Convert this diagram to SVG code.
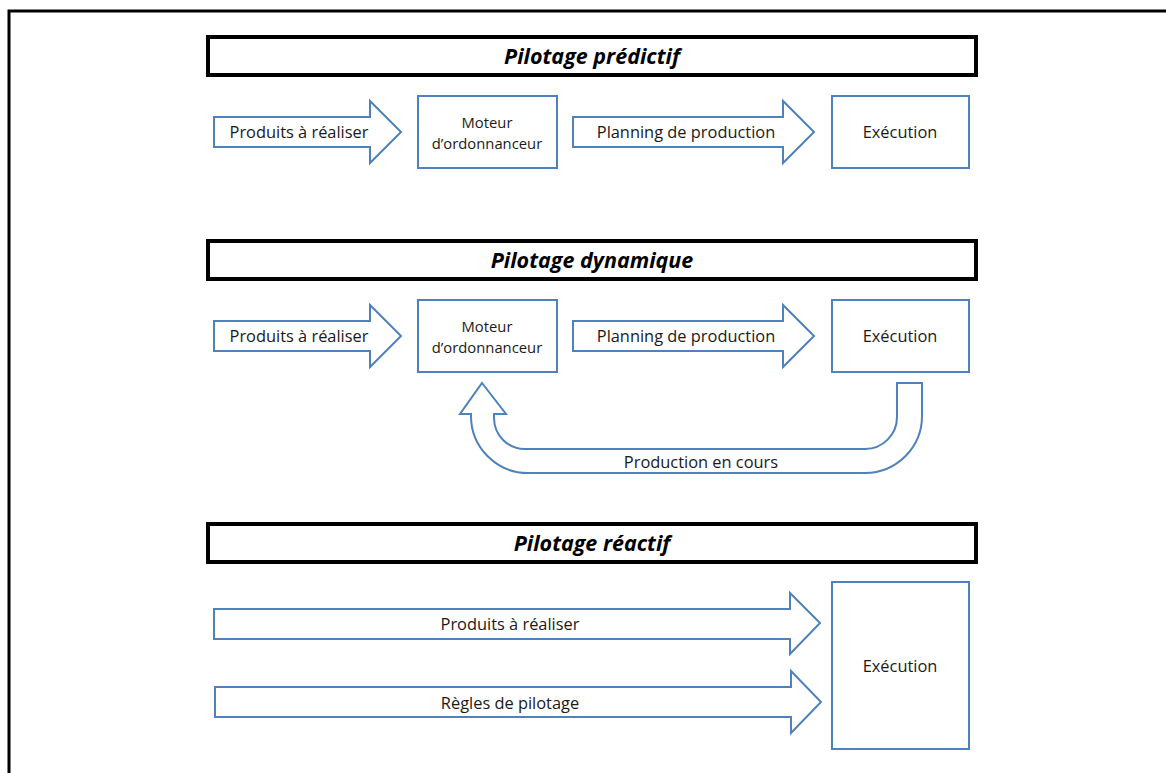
<svg xmlns="http://www.w3.org/2000/svg" width="1166" height="773" viewBox="0 0 1166 773">
<style>
.frame{fill:none;stroke:#000;stroke-width:3}
.bar{fill:#fff;stroke:#000;stroke-width:4}
.title{font-family:"Open Sans",sans-serif;font-weight:bold;font-style:italic;font-size:21.5px;fill:#000;text-anchor:middle}
.box{fill:#fff;stroke:#4F81BD;stroke-width:2}
.arr{fill:#fff;stroke:#4F81BD;stroke-width:2;stroke-linejoin:miter}
.lbl{font-family:"Open Sans",sans-serif;font-size:16.4px;fill:#1a1a1a;text-anchor:middle}
.sm{font-family:"Open Sans",sans-serif;font-size:14.8px;fill:#1a1a1a;text-anchor:middle}
</style>
<rect width="1166" height="773" fill="#fff"/>
<rect class="frame" x="9" y="11" width="1200" height="800"/>

<g id="section-predictif">
  <g id="title-predictif"><rect class="bar" x="208" y="37" width="768" height="38"/><text class="title" x="592" y="64">Pilotage prédictif</text></g>
  <g id="moteur1"><rect class="box" x="418" y="96" width="139" height="72"/><text class="sm" x="487" y="128">Moteur</text><text class="sm" x="487" y="149">d’ordonnanceur</text></g>
  <g id="exec1"><rect class="box" x="832" y="96" width="137" height="72"/><text class="lbl" x="900" y="138">Exécution</text></g>
</g>

<g id="section-dynamique">
  <g id="title-dynamique"><rect class="bar" x="208" y="241" width="768" height="38"/><text class="title" x="592" y="268">Pilotage dynamique</text></g>
  <g id="moteur2"><rect class="box" x="418" y="300" width="139" height="72"/><text class="sm" x="487" y="332">Moteur</text><text class="sm" x="487" y="353">d’ordonnanceur</text></g>
  <g id="exec2"><rect class="box" x="832" y="300" width="137" height="72"/><text class="lbl" x="900" y="342">Exécution</text></g>
</g>

<g id="section-reactif">
  <g id="title-reactif"><rect class="bar" x="208" y="524" width="768" height="38"/><text class="title" x="592" y="551">Pilotage réactif</text></g>
  <g id="exec3"><rect class="box" x="832" y="582" width="137" height="167"/><text class="lbl" x="900" y="672">Exécution</text></g>
</g>

<g id="connectors">
  <path class="arr" d="M214,117 H370 V101 L401,132 L370,163 V147 H214 Z"/>
  <text class="lbl" x="299" y="138">Produits à réaliser</text>
  <path class="arr" d="M573,117 H783 V101 L814,132 L783,163 V147 H573 Z"/>
  <text class="lbl" x="686" y="138">Planning de production</text>

  <path class="arr" d="M214,321 H370 V305 L401,336 L370,367 V351 H214 Z"/>
  <text class="lbl" x="299" y="342">Produits à réaliser</text>
  <path class="arr" d="M573,321 H783 V305 L814,336 L783,367 V351 H573 Z"/>
  <text class="lbl" x="686" y="342">Planning de production</text>

  <path class="arr" d="M482,383 L506,414 H494 V418 A31,31 0 0 0 525,449 H865 A32,32 0 0 0 897,417 V383 H922 V416 A57,57 0 0 1 865,473 H528 A57,57 0 0 1 471,416 V414 H460 Z"/>
  <text class="lbl" x="701" y="468">Production en cours</text>

  <path class="arr" d="M214,609 H790 V593 L820,623 L790,654 V639 H214 Z"/>
  <text class="lbl" x="510" y="630">Produits à réaliser</text>
  <path class="arr" d="M215,687 H791 V671 L821,702 L791,733 V717 H215 Z"/>
  <text class="lbl" x="510" y="709">Règles de pilotage</text>
</g>
</svg>
